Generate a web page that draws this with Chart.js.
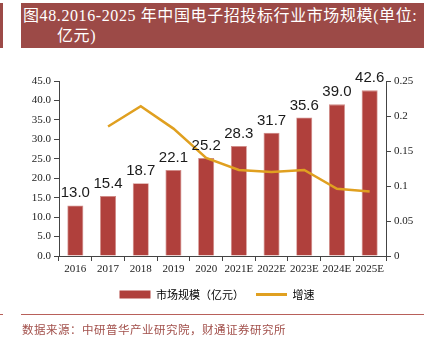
<!doctype html>
<html lang="zh">
  <head>
    <meta charset="utf-8">
    <title>中国电子招投标行业市场规模</title>
    <style>
      * {
        margin: 0;
        padding: 0;
      }
      body {
        width: 434px;
        height: 346px;
        position: relative;
        background: #fff;
        overflow: hidden;
      }
      .titleBox {
        position: absolute;
        left: 21px;
        top: 3px;
        width: 403px;
        height: 45px;
        background: #9c4a47;
        color: #fff;
        font-family: "Liberation Serif", "Noto Sans CJK SC", serif;
        font-size: 16px;
        line-height: 20px;
        letter-spacing: 0.6px;
        padding: 3px 0 0 2px;
        box-sizing: border-box;
        white-space: nowrap;
      }
      .titleBox .second {
        padding-left: 34px;
      }
      .edgeStrip {
        position: absolute;
        left: 0;
        top: 3px;
        width: 3px;
        height: 45px;
        background: #9c4a47;
      }
      .rule {
        position: absolute;
        top: 314px;
        height: 1px;
        background: #b8605a;
      }
      .source {
        position: absolute;
        left: 22px;
        top: 321px;
        font-family: "Noto Sans CJK SC", sans-serif;
        font-size: 11.5px;
        letter-spacing: 0.5px;
        color: #a2504b;
        white-space: nowrap;
      }
      .chartBox {
        position: absolute;
        left: 0;
        top: 0;
        width: 434px;
        height: 346px;
      }
    </style>
  </head>
  <body>
    <div class="edgeStrip"></div>
    <div class="titleBox">图48.2016-2025 年中国电子招投标行业市场规模(单位:<br><span class="second">亿元)</span></div>
    <div class="chartBox">
      <canvas id="myChart" width="434" height="346"></canvas>
    </div>
    <div class="rule" style="left:0;width:3px"></div>
    <div class="rule" style="left:21px;width:403px"></div>
    <div class="source">数据来源：中研普华产业研究院，财通证券研究所</div>

    <script src="https://cdn.jsdelivr.net/npm/chart.js"></script>
    <script>
    // data
    const years = ['2016', '2017', '2018', '2019', '2020', '2021E', '2022E', '2023E', '2024E', '2025E'];
    const marketSize = [13.0, 15.4, 18.7, 22.1, 25.2, 28.3, 31.7, 35.6, 39.0, 42.6];
    const growth = [null, 0.185, 0.214, 0.182, 0.140, 0.123, 0.120, 0.123, 0.096, 0.092];

    const barColor = '#b0403c';
    const lineColor = '#e0a020';
    const tickFont = { family: '"Liberation Serif", serif', size: 11 };

    // value labels above the bars
    const barLabels = {
      id: 'barLabels',
      afterDatasetsDraw(chart) {
        const ctx = chart.ctx;
        const meta = chart.getDatasetMeta(1);
        ctx.save();
        ctx.font = '15px "Liberation Sans", sans-serif';
        ctx.fillStyle = '#1a1a1a';
        ctx.textAlign = 'center';
        ctx.textBaseline = 'alphabetic';
        meta.data.forEach((bar, i) => {
          ctx.fillText(marketSize[i].toFixed(1), bar.x, bar.y - 8);
        });
        ctx.restore();
      }
    };

    const config = {
      data: {
        labels: years,
        datasets: [
          {
            type: 'line',
            label: '增速',
            data: growth,
            yAxisID: 'y1',
            borderColor: lineColor,
            backgroundColor: lineColor,
            borderWidth: 2.5,
            pointRadius: 0,
            tension: 0,
            order: 0
          },
          {
            type: 'bar',
            label: '市场规模（亿元）',
            data: marketSize,
            yAxisID: 'y',
            backgroundColor: barColor,
            borderColor: '#d08a86',
            borderWidth: 0.8,
            categoryPercentage: 1,
            barPercentage: 0.49,
            order: 1
          }
        ]
      },
      options: {
        responsive: false,
        animation: false,
        layout: {
          padding: { left: 0, right: 0, top: 81, bottom: 36 }
        },
        plugins: {
          tooltip: { enabled: false },
          legend: {
            position: 'bottom',
            labels: {
              usePointStyle: true,
              pointStyleWidth: 31,
              boxHeight: 8,
              padding: 12,
              color: '#222',
              font: { family: '"Noto Sans CJK SC", sans-serif', size: 11 },
              generateLabels() {
                return [
                  { text: '市场规模（亿元）', pointStyle: 'rect', fillStyle: barColor, strokeStyle: barColor, lineWidth: 0, datasetIndex: 1 },
                  { text: '增速', pointStyle: 'line', fillStyle: lineColor, strokeStyle: lineColor, lineWidth: 3, datasetIndex: 0 }
                ];
              }
            }
          }
        },
        scales: {
          x: {
            grid: { offset: true, drawOnChartArea: false, tickLength: 5, color: '#444' },
            border: { color: '#444' },
            ticks: { color: '#222', font: tickFont, maxRotation: 0, autoSkip: false, padding: 2 },
            afterFit(scale) { scale.height = 21; }
          },
          y: {
            position: 'left',
            min: 0,
            max: 45,
            grid: { drawOnChartArea: false, tickLength: 5, color: '#444' },
            border: { color: '#444' },
            ticks: { stepSize: 5, color: '#222', font: tickFont, padding: 3, callback: v => v.toFixed(1) },
            afterFit(scale) { scale.width = 59; }
          },
          y1: {
            position: 'right',
            min: 0,
            max: 0.25,
            grid: { drawOnChartArea: false, tickLength: 5, color: '#444' },
            border: { color: '#444' },
            ticks: { stepSize: 0.05, color: '#222', font: tickFont, padding: 3, callback: v => String(+v.toFixed(2)) },
            afterFit(scale) { scale.width = 48; }
          }
        }
      },
      plugins: [barLabels]
    };

    const myChart = new Chart(document.getElementById('myChart'), config);
    </script>
  </body>
</html>
